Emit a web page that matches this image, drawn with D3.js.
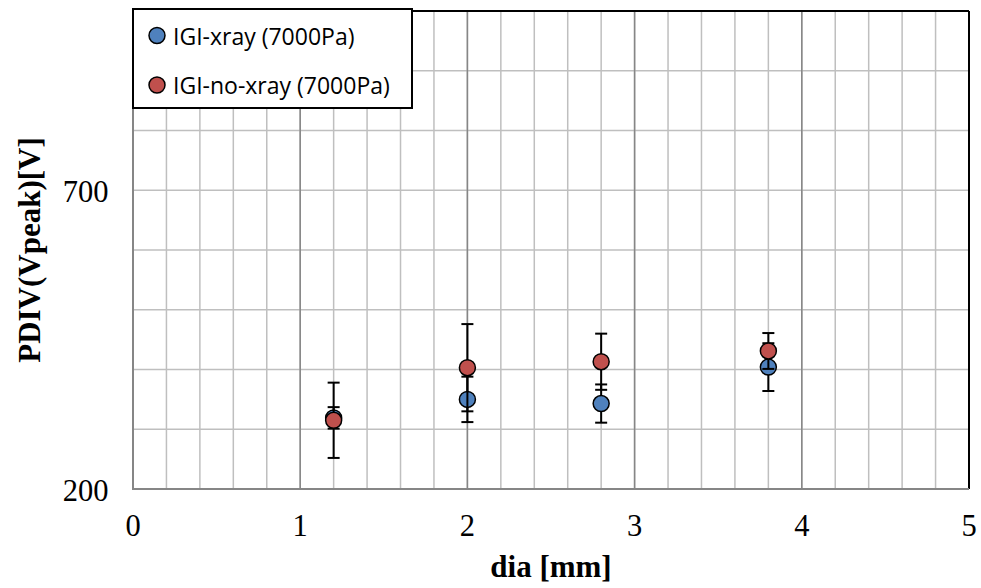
<!DOCTYPE html>
<html lang="en">
<head>
<meta charset="UTF-8">
<title>PDIV vs dia</title>
<style>
* { margin: 0; padding: 0; }
body { background: #fff; width: 981px; height: 588px; overflow: hidden; }
svg { display: block; }
</style>
</head>
<body>
<div id="chart"></div>
<script src="https://d3js.org/d3.v7.min.js"></script>
<script>
// x positions (dia, mm)
var dia = [1.2, 2.0, 2.8, 3.8];

// IGI-xray (7000Pa)
var xrayMean = [319, 350, 343, 404];
var xrayErr = [18, 38, 32, 40];

// IGI-no-xray (7000Pa)
var noXrayMean = [315, 403, 413, 431];
var noXrayErr = [63, 73, 47, 30];

var xTicks = [0, 1, 2, 3, 4, 5];
var xMinor = d3.range(0, 5.001, 0.2);
var yTicks = [200, 700];
var yMinor = d3.range(200, 1000.1, 100);

var series = [
	{ name: "IGI-xray (7000Pa)", color: "#4f81bd", mean: xrayMean, err: xrayErr },
	{ name: "IGI-no-xray (7000Pa)", color: "#c0504d", mean: noXrayMean, err: noXrayErr }
];

var SERIF = "'Liberation Serif', 'Times New Roman', serif";
var SANS = "'Open Sans', sans-serif";

var W = 981, H = 588;
var m = { left: 133, top: 11, right: 969, bottom: 489 };

var x = d3.scaleLinear().domain([0, 5]).range([m.left, m.right]);
var y = d3.scaleLinear().domain([200, 1000]).range([m.bottom, m.top]);

var svg = d3.select("#chart").append("svg").attr("width", W).attr("height", H);

// minor gridlines
svg.append("g").selectAll("line").data(xMinor).join("line")
	.attr("x1", function(d) { return x(d); }).attr("x2", function(d) { return x(d); })
	.attr("y1", m.top).attr("y2", m.bottom)
	.attr("stroke", "#bfbfbf").attr("stroke-width", 1.5);
svg.append("g").selectAll("line").data(yMinor).join("line")
	.attr("x1", m.left).attr("x2", m.right)
	.attr("y1", function(d) { return y(d); }).attr("y2", function(d) { return y(d); })
	.attr("stroke", "#bfbfbf").attr("stroke-width", 1.5);

// major vertical gridlines
svg.append("g").selectAll("line").data(xTicks.slice(1, -1)).join("line")
	.attr("x1", function(d) { return x(d); }).attr("x2", function(d) { return x(d); })
	.attr("y1", m.top).attr("y2", m.bottom)
	.attr("stroke", "#868686").attr("stroke-width", 1.5);

// plot border: top/right black, left/bottom gray axis lines
svg.append("line").attr("x1", m.left).attr("x2", m.right).attr("y1", m.top).attr("y2", m.top)
	.attr("stroke", "#000").attr("stroke-width", 2);
svg.append("line").attr("x1", m.right).attr("x2", m.right).attr("y1", m.top).attr("y2", m.bottom)
	.attr("stroke", "#000").attr("stroke-width", 2);
svg.append("line").attr("x1", m.left).attr("x2", m.left).attr("y1", m.top).attr("y2", m.bottom)
	.attr("stroke", "#868686").attr("stroke-width", 2);
svg.append("line").attr("x1", m.left - 1).attr("x2", m.right).attr("y1", m.bottom).attr("y2", m.bottom)
	.attr("stroke", "#868686").attr("stroke-width", 2);

// tick labels
svg.append("g").selectAll("text").data(xTicks).join("text")
	.attr("x", function(d) { return x(d); })
	.attr("y", m.bottom + 47)
	.attr("text-anchor", "middle")
	.style("font-family", SERIF).style("font-size", "30.5px").attr("fill", "#000")
	.text(function(d) { return d; });
svg.append("g").selectAll("text").data(yTicks).join("text")
	.attr("x", m.left - 24.5)
	.attr("y", function(d) { return y(d) + 12; })
	.attr("text-anchor", "end")
	.style("font-family", SERIF).style("font-size", "30.5px").attr("fill", "#000")
	.text(function(d) { return d; });

// axis titles, centred on the plot area
svg.append("text")
	.attr("x", (m.left + m.right) / 2).attr("y", 577)
	.attr("text-anchor", "middle")
	.style("font-family", SERIF).style("font-size", "31px").style("font-weight", "bold")
	.text("dia [mm]");
svg.append("text")
	.attr("transform", "translate(40," + ((m.top + m.bottom) / 2) + ") rotate(-90)")
	.attr("text-anchor", "middle")
	.style("font-family", SERIF).style("font-size", "31px").style("font-weight", "bold")
	.text("PDIV(Vpeak)[V]");

// error bars + markers
var capW = 6;
series.forEach(function(s) {
	var g = svg.append("g");
	var pts = dia.map(function(d, i) { return { x: d, v: s.mean[i], e: s.err[i] }; });
	g.selectAll("line.eb").data(pts).join("line").attr("class", "eb")
		.attr("x1", function(d) { return x(d.x); }).attr("x2", function(d) { return x(d.x); })
		.attr("y1", function(d) { return y(d.v + d.e); }).attr("y2", function(d) { return y(d.v - d.e); })
		.attr("stroke", "#000").attr("stroke-width", 2);
	g.selectAll("line.cap-top").data(pts).join("line").attr("class", "cap-top")
		.attr("x1", function(d) { return x(d.x) - capW; }).attr("x2", function(d) { return x(d.x) + capW; })
		.attr("y1", function(d) { return y(d.v + d.e); }).attr("y2", function(d) { return y(d.v + d.e); })
		.attr("stroke", "#000").attr("stroke-width", 2);
	g.selectAll("line.cap-bot").data(pts).join("line").attr("class", "cap-bot")
		.attr("x1", function(d) { return x(d.x) - capW; }).attr("x2", function(d) { return x(d.x) + capW; })
		.attr("y1", function(d) { return y(d.v - d.e); }).attr("y2", function(d) { return y(d.v - d.e); })
		.attr("stroke", "#000").attr("stroke-width", 2);
	s.g = g;
	s.pts = pts;
});
series.forEach(function(s) {
	s.g.selectAll("circle").data(s.pts).join("circle")
		.attr("cx", function(d) { return x(d.x); })
		.attr("cy", function(d) { return y(d.v); })
		.attr("r", 8)
		.attr("fill", s.color)
		.attr("stroke", "#000").attr("stroke-width", 1.5);
});

// legend
var lg = svg.append("g");
lg.append("rect").attr("x", 133).attr("y", 9).attr("width", 279).attr("height", 99)
	.attr("fill", "#fff").attr("stroke", "#000").attr("stroke-width", 2);
series.forEach(function(s, i) {
	var cy = 35.5 + i * 49.5;
	lg.append("circle").attr("cx", 157).attr("cy", cy).attr("r", 8)
		.attr("fill", s.color).attr("stroke", "#000").attr("stroke-width", 1.5);
	lg.append("text")
		.attr("x", 173).attr("y", cy + 9)
		.style("font-family", SANS).style("font-size", "23px").attr("fill", "#000")
		.text(s.name);
});
</script>
</body>
</html>
